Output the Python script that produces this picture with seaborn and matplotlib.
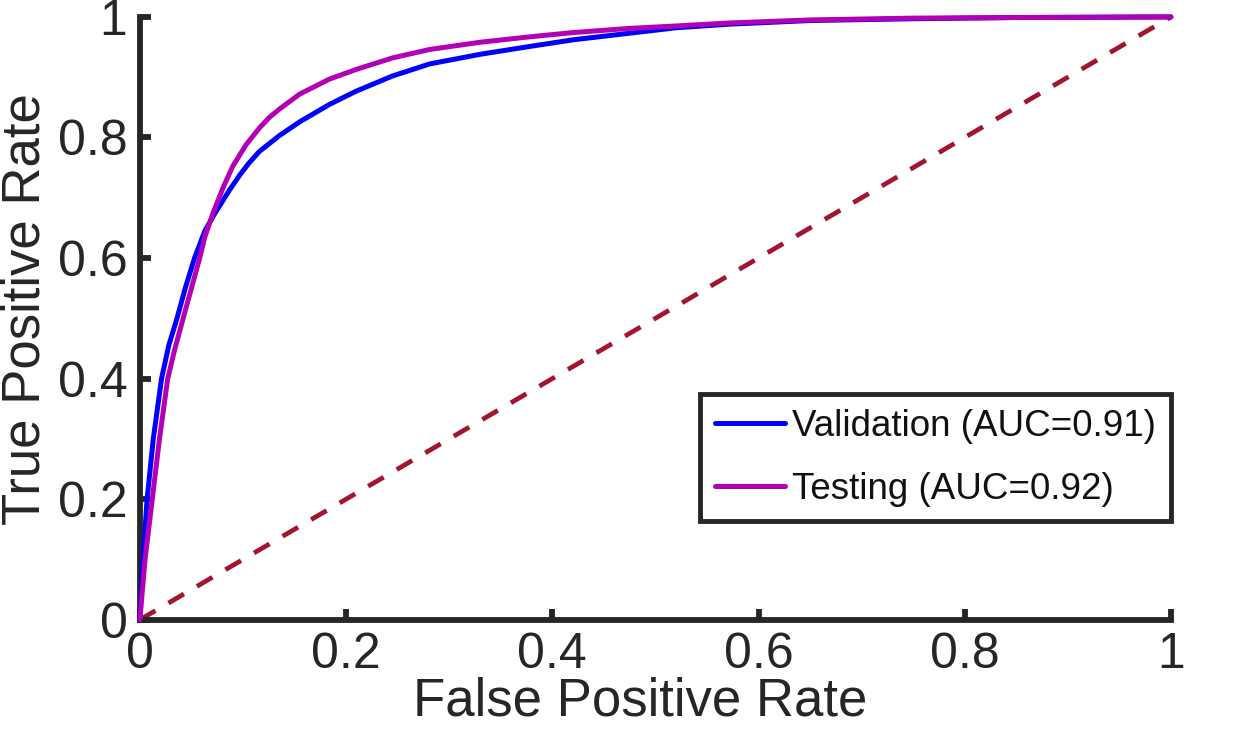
import pandas as pd
import matplotlib
matplotlib.use("Agg")
import matplotlib.pyplot as plt
import seaborn as sns

# ------------------ ROC points ------------------
val_fpr = [0, 0.003, 0.007, 0.013, 0.021, 0.028, 0.036, 0.044, 0.053, 0.063, 0.073,
           0.087, 0.097, 0.106, 0.116, 0.136, 0.155, 0.184, 0.21, 0.245, 0.281,
           0.33, 0.378, 0.42, 0.475, 0.52, 0.572, 0.65, 0.75, 0.85, 1.0]
val_tpr = [0, 0.1, 0.2, 0.3, 0.4, 0.455, 0.5, 0.55, 0.6, 0.645, 0.675,
           0.713, 0.738, 0.758, 0.777, 0.804, 0.826, 0.855, 0.877, 0.902, 0.922,
           0.938, 0.951, 0.962, 0.973, 0.982, 0.988, 0.994, 0.997, 0.999, 1.0]

test_fpr = [0, 0.005, 0.012, 0.019, 0.027, 0.034, 0.042, 0.05, 0.058, 0.063, 0.071,
            0.081, 0.09, 0.103, 0.116, 0.126, 0.136, 0.155, 0.184, 0.21, 0.245,
            0.281, 0.33, 0.378, 0.42, 0.475, 0.52, 0.572, 0.65, 0.75, 0.85, 1.0]
test_tpr = [0, 0.1, 0.2, 0.3, 0.4, 0.45, 0.5, 0.55, 0.6, 0.635, 0.675,
            0.718, 0.752, 0.788, 0.816, 0.834, 0.848, 0.872, 0.897, 0.913, 0.932,
            0.946, 0.958, 0.967, 0.974, 0.981, 0.985, 0.99, 0.995, 0.998, 0.999, 1.0]

chance = [0, 1]

val_label = "Validation (AUC=0.91)"
test_label = "Testing (AUC=0.92)"
ticks = [0, 0.2, 0.4, 0.6, 0.8, 1]
tick_labels = ["0", "0.2", "0.4", "0.6", "0.8", "1"]

df = pd.concat([
    pd.DataFrame({"fpr": val_fpr, "tpr": val_tpr, "curve": val_label}),
    pd.DataFrame({"fpr": test_fpr, "tpr": test_tpr, "curve": test_label}),
])

# ------------------ Style ------------------
sns.set_theme(style="white")
plt.rcParams["font.family"] = ["Liberation Sans", "DejaVu Sans"]
dark = "#262626"

fig = plt.figure(figsize=(12.49, 7.36), dpi=100)
ax = fig.add_axes([0.112, 0.158, 0.8255, 0.819])

# chance diagonal
sns.lineplot(x=chance, y=chance, ax=ax, color="#A2142F", lw=3.4,
             dashes=False, legend=False, clip_on=False, zorder=2)
ax.lines[-1].set_dashes([3.8, 3.2])

# ROC curves
sns.lineplot(data=df, x="fpr", y="tpr", hue="curve", ax=ax,
             palette={val_label: "#0000FF", test_label: "#B400B4"},
             sort=False, estimator=None, lw=3.6, clip_on=False, zorder=3)

ax.set_xlim(0, 1)
ax.set_ylim(0, 1)
ax.set_xticks(ticks)
ax.set_xticklabels(tick_labels)
ax.set_yticks(ticks)
ax.set_yticklabels(tick_labels)

for side in ["top", "right"]:
    ax.spines[side].set_visible(False)
for side in ["left", "bottom"]:
    ax.spines[side].set_linewidth(4.2)
    ax.spines[side].set_color(dark)

ax.tick_params(axis="both", direction="in", length=8, width=4.2, color=dark,
               labelsize=36, labelcolor=dark, pad=9, left=True, bottom=True)

ax.set_xlabel("False Positive Rate", fontsize=38, color=dark)
ax.set_ylabel("True Positive Rate", fontsize=38, color=dark)
ax.xaxis.set_label_coords(0.485, -0.095)
ax.yaxis.set_label_coords(-0.087, 0.515)

leg = ax.legend(loc="lower right", bbox_to_anchor=(1.0, 0.163), borderaxespad=0,
                fontsize=26.5, frameon=True, fancybox=False, framealpha=1,
                handlelength=1.9, handletextpad=0.2, labelspacing=0.75,
                borderpad=0.4)
leg.get_frame().set_edgecolor(dark)
leg.get_frame().set_linewidth(3.5)
for line in leg.get_lines():
    line.set_linewidth(3.6)
for text in leg.get_texts():
    text.set_color("#111111")

plt.savefig("out.png", dpi=100)
plt.close()
